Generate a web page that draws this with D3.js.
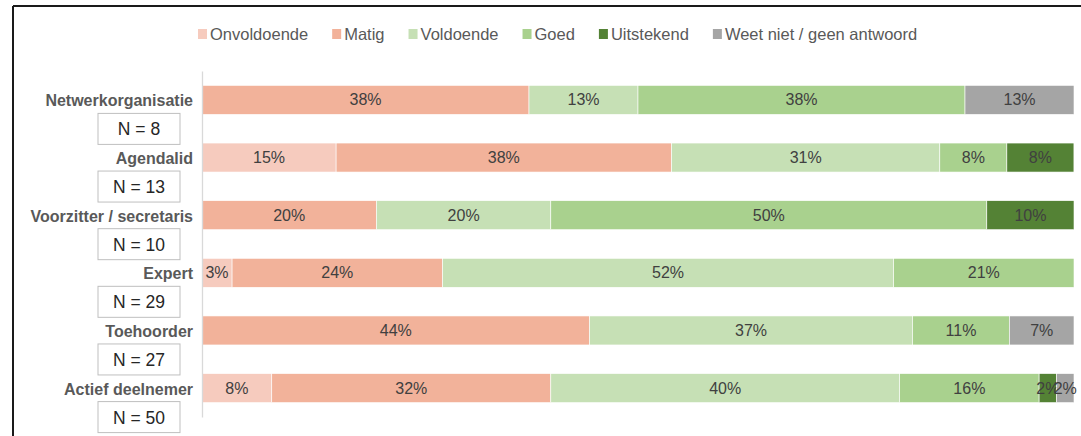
<!DOCTYPE html>
<html>
<head>
<meta charset="utf-8">
<script src="https://cdn.jsdelivr.net/npm/d3@7"></script>
<style>
  html, body { margin: 0; padding: 0; background: #fff; }
  svg { display: block; }
  text { font-family: Arial, "Liberation Sans", sans-serif; }
</style>
</head>
<body>
<script>
// ---- Data ----
const categories = ["Netwerkorganisatie", "Agendalid", "Voorzitter / secretaris", "Expert", "Toehoorder", "Actief deelnemer"];
const nValues = [8, 13, 10, 29, 27, 50];
const seriesNames = ["Onvoldoende", "Matig", "Voldoende", "Goed", "Uitstekend", "Weet niet / geen antwoord"];
const onvoldoende = [0, 15.38, 0, 3.45, 0, 8];
const matig       = [37.5, 38.46, 20, 24.14, 44.44, 32];
const voldoende   = [12.5, 30.77, 20, 51.72, 37.04, 40];
const goed        = [37.5, 7.69, 50, 20.69, 11.11, 16];
const uitstekend  = [0, 7.69, 10, 0, 0, 2];
const weetNiet    = [12.5, 0, 0, 0, 7.41, 2];
const colors = ["#F6CBBE", "#F2B29A", "#C6E0B5", "#A9D18E", "#548235", "#A5A5A5"];

const seriesValues = [onvoldoende, matig, voldoende, goed, uitstekend, weetNiet];
const rows = categories.map((c, i) => {
  const r = { cat: c, n: nValues[i] };
  seriesNames.forEach((s, j) => { r[s] = seriesValues[j][i]; });
  return r;
});

const W = 1081, H = 436;
const svg = d3.select("body").append("svg").attr("width", W).attr("height", H);

// frame
svg.append("line").attr("x1", 13).attr("x2", W).attr("y1", 6).attr("y2", 6)
  .attr("stroke", "#1a1a1a").attr("stroke-width", 2);
svg.append("line").attr("x1", 13).attr("x2", 13).attr("y1", 6).attr("y2", H)
  .attr("stroke", "#1a1a1a").attr("stroke-width", 2);

const x = d3.scaleLinear().domain([0, 100]).range([202, 1074]);
const y = d3.scaleBand().domain(categories).range([71, 417]).paddingInner(0.497).paddingOuter(0.25);

const stack = d3.stack().keys(seriesNames);
const stacked = stack(rows);

const g = svg.append("g");
const layers = g.selectAll("g.layer").data(stacked).enter().append("g")
  .attr("fill", (d, i) => colors[i]);

layers.selectAll("rect").data(d => d.filter(p => p[1] - p[0] > 0)).enter().append("rect")
  .attr("x", d => x(d[0]))
  .attr("y", d => y(d.data.cat))
  .attr("width", d => x(d[1]) - x(d[0]))
  .attr("height", y.bandwidth())
  .attr("stroke", "#fff").attr("stroke-width", 0.6);

layers.selectAll("text").data(d => d.filter(p => p[1] - p[0] > 0)).enter().append("text")
  .attr("x", d => (x(d[0]) + x(d[1])) / 2)
  .attr("y", d => y(d.data.cat) + y.bandwidth() / 2)
  .attr("text-anchor", "middle")
  .attr("dominant-baseline", "central")
  .attr("font-size", "16px")
  .attr("fill", "#404040")
  .text(d => Math.round(d[1] - d[0]) + "%");

// axis (vertical line + category labels)
const yAxis = d3.axisLeft(y).tickSize(0).tickPadding(9);
const ax = svg.append("g").attr("transform", "translate(202,0)").call(yAxis);
ax.select(".domain").attr("stroke", "#D9D9D9").attr("stroke-width", 1.3);
ax.selectAll(".tick text")
  .attr("font-family", "Arial, 'Liberation Sans', sans-serif")
  .attr("font-size", "16px")
  .attr("font-weight", "bold")
  .attr("fill", "#595959")
  .attr("dy", "0.4em");

// N boxes
const boxes = svg.append("g").selectAll("g").data(rows).enter().append("g")
  .attr("transform", d => `translate(98,${y(d.cat) + y.bandwidth() / 2 + 13.5})`);
boxes.append("rect").attr("width", 82).attr("height", 31)
  .attr("fill", "#fff").attr("stroke", "#BFBFBF").attr("stroke-width", 1);
boxes.append("text").attr("x", 41).attr("y", 16)
  .attr("text-anchor", "middle").attr("dominant-baseline", "central")
  .attr("font-size", "17.5px").attr("fill", "#262626")
  .text(d => "N = " + d.n);

// legend
const legend = svg.append("g").attr("transform", "translate(198,34)");
let lx = 0;
seriesNames.forEach((s, i) => {
  const item = legend.append("g").attr("transform", `translate(${lx},0)`);
  item.append("rect").attr("x", 0).attr("y", -5).attr("width", 9).attr("height", 10).attr("fill", colors[i]);
  const t = item.append("text").attr("x", 12).attr("y", 0)
    .attr("dominant-baseline", "central")
    .attr("font-size", "16.5px").attr("fill", "#595959").text(s);
  lx += 12 + t.node().getComputedTextLength() + 24;
});
</script>
</body>
</html>
